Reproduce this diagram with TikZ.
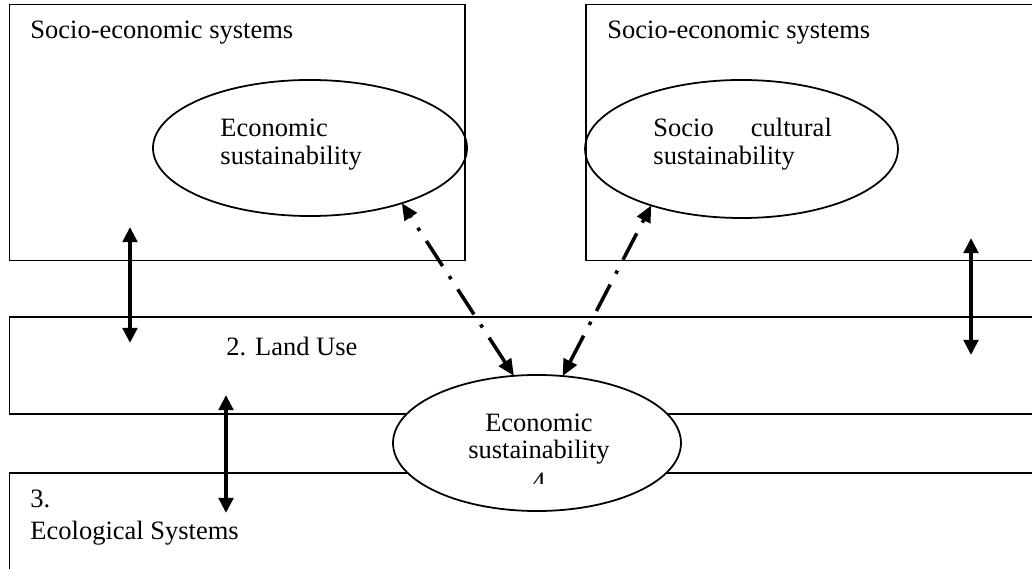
\documentclass[tikz,border=0pt]{standalone}
\usepackage{fontspec}
\setmainfont{Liberation Serif}
\usetikzlibrary{arrows.meta,shapes.geometric}

\begin{document}
\begin{tikzpicture}[x=0.4528pt,y=-0.4528pt,
  txt/.style={inner sep=0pt,anchor=base west,font=\fontsize{12}{12.5}\selectfont},
  ctxt/.style={txt,anchor=base},
  oval/.style={draw,ellipse,line width=0.8pt,inner sep=0pt,outer sep=0pt},
  link/.style={line width=1.7pt,{Triangle[width=6.6pt,length=6.9pt]}-{Triangle[width=6.6pt,length=6.9pt]}},
  dlink/.style={line width=1.6pt,dash pattern=on 13.5pt off 5.5pt on 1.6pt off 5.5pt,
    {Triangle[width=6.5pt,length=7.5pt]}-{Triangle[width=6.5pt,length=7.5pt]}}]
\clip (0,0) rectangle (1032,569);

% the four systems boxes
\draw[line width=0.7pt] (9.5,4.7) rectangle (465,260.7);
\draw[line width=0.7pt] (586,4.7) rectangle (1045,260.7);
\draw[line width=0.7pt] (9.5,317) rectangle (1045,414);
\draw[line width=0.7pt] (9.5,473) rectangle (1045,600);
\node[txt] (secLeft) at (30,39) {Socio-economic systems};
\node[txt] (secRight) at (607,39) {Socio-economic systems};
\node[txt] (landUse) at (226,356) {2. Land Use};
\node[txt] (ecoNum) at (30,508) {3.};
\node[txt] (ecoSys) at (30,540) {Ecological Systems};

% sustainability ovals
\node[oval,minimum width=142.2pt,minimum height=61.6pt] (econ) at (310,148) {};
\node[txt] (econA) at (220,137) {Economic};
\node[txt] (econB) at (220,165) {sustainability};
\node[oval,minimum width=141.7pt,minimum height=62.5pt] (socio) at (741.5,149) {};
\node[txt] (socioA) at (653,137) {Socio\hspace{13.8pt} cultural};
\node[txt] (socioB) at (653,165) {sustainability};
\node[oval,fill=white,minimum width=130.4pt,minimum height=61.6pt] (econLow) at (537,443) {};
\node[ctxt] (econLowA) at (539,432) {Economic};
\node[ctxt] (econLowB) at (539,459) {sustainability};
\begin{scope}
\clip (480,440) rectangle (600,484);
\node[ctxt] (econLowC) at (539,491) {4};
\end{scope}

% links between the levels
\coordinate (upTop) at (130,227);
\coordinate (upBot) at (130,343);
\coordinate (lowTop) at (226,395);
\coordinate (lowBot) at (226,513);
\coordinate (rTop) at (971,238);
\coordinate (rBot) at (971,355);
\draw[link] (upTop) -- (upBot);
\draw[link] (lowTop) -- (lowBot);
\draw[link] (rTop) -- (rBot);
\draw[dlink] (econLow.109.4) -- (econ.-31.5);
\draw[dlink] (econLow.69.1) -- (socio.212.1);
\end{tikzpicture}
\end{document}
